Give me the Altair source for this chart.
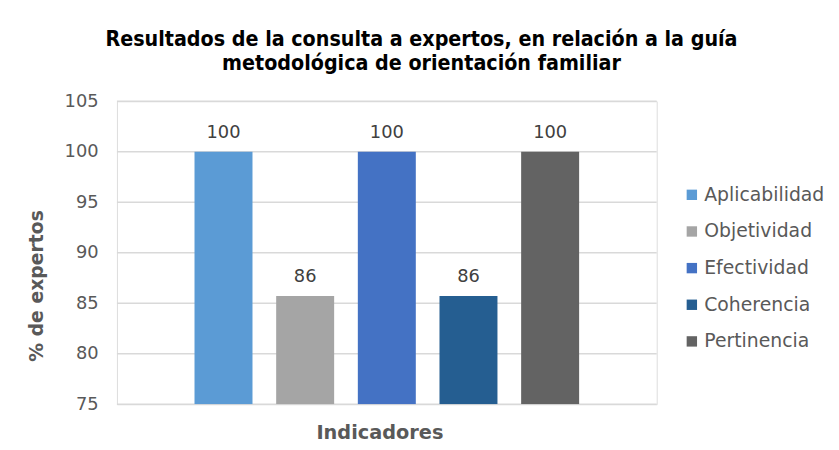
import altair as alt
import pandas as pd

categories = ["Aplicabilidad", "Objetividad", "Efectividad", "Coherencia", "Pertinencia"]
values = [100, 85.71, 100, 85.71, 100]
colors = ["#5B9BD5", "#A5A5A5", "#4472C4", "#255E91", "#636363"]
y_ticks = [75, 80, 85, 90, 95, 100, 105]

df = pd.DataFrame({"Indicador": categories, "Pct": values})
grid_df = pd.DataFrame({"v": y_ticks})

W, H = 545, 306
FONT = "DejaVu Sans"

yscale = alt.Scale(domain=[75, 105], nice=False, zero=False)
xsort = categories

grid = alt.Chart(grid_df).mark_rule(color="#d9d9d9", strokeWidth=1.5).encode(
    y=alt.Y("v:Q", scale=yscale),
    x=alt.value(0),
    x2=alt.value({"expr": "width"}),
)

x = alt.X(
    "Indicador:N",
    sort=xsort,
    scale=alt.Scale(paddingInner=0.29, paddingOuter=0.95),
    axis=alt.Axis(
        title="Indicadores", labels=False, ticks=False, domain=False,
        titleFont=FONT, titleFontSize=19.5, titleFontWeight="bold",
        titleColor="#595959", titlePadding=20, titleX=265,
    ),
)
y = alt.Y(
    "Pct:Q",
    scale=yscale,
    axis=alt.Axis(
        title="% de expertos", values=y_ticks,
        domain=False, ticks=False, grid=False,
        labelFont=FONT, labelFontSize=18, labelColor="#595959", labelPadding=19,
        titleFont=FONT, titleFontSize=19, titleFontWeight="bold",
        titleColor="#595959", titlePadding=18, titleY=186,
    ),
)

bars = alt.Chart(df).mark_bar(clip=True).encode(
    x=x,
    y=y,
    y2=alt.datum(75),
    color=alt.Color(
        "Indicador:N",
        sort=categories,
        scale=alt.Scale(domain=categories, range=colors),
        legend=alt.Legend(
            title=None, orient="none", legendX=571, legendY=85,
            symbolType="square", symbolSize=110, symbolStrokeWidth=0,
            labelFont=FONT, labelFontSize=19, labelColor="#595959",
            rowPadding=17, labelOffset=3,
        ),
    ),
)

labels = alt.Chart(df).mark_text(
    baseline="bottom", dy=-10, font=FONT, fontSize=18, color="#404040"
).encode(
    x=alt.X("Indicador:N", sort=xsort),
    y=alt.Y("Pct:Q", scale=yscale),
    text=alt.Text("Pct:Q", format=".0f"),
)

chart = (
    alt.layer(grid, bars, labels)
    .properties(
        width=W,
        height=H,
        autosize=alt.AutoSizeParams(type="none"),
        padding={"left": 110, "top": 92, "right": 176, "bottom": 44},
        title=alt.TitleParams(
            text=["Resultados de la consulta a expertos, en relación a la guía",
                  "metodológica de orientación familiar"],
            font="DejaVu Sans Condensed, DejaVu Sans",
            fontSize=21.5, fontWeight="bold", color="#000000",
            anchor="middle", dx=35, offset=18, lineHeight=24,
        ),
    )
    .configure_view(fill="#efefef", stroke="#d9d9d9", strokeWidth=1.5)
    .configure(background="#ffffff")
)

chart.save("out.html", embed_options={"renderer": "svg", "actions": False})
